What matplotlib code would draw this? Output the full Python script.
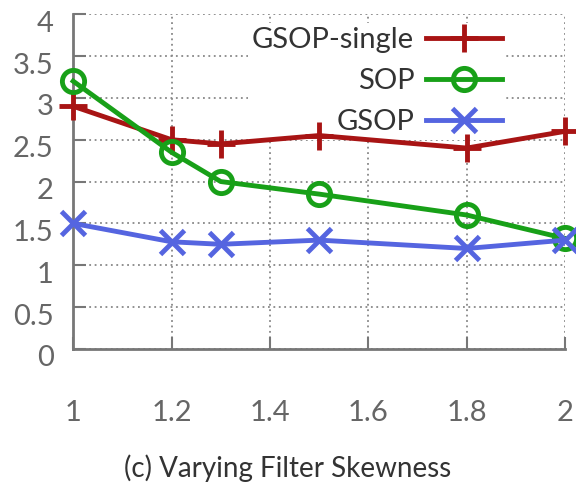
import matplotlib
matplotlib.use("Agg")
import matplotlib.pyplot as plt
import matplotlib.transforms as mtransforms

plt.rcParams['font.family'] = ['Lato', 'DejaVu Sans']

skewness = [1.0, 1.2, 1.3, 1.5, 1.8, 2.0]
gsop_single = [2.9, 2.5, 2.45, 2.55, 2.4, 2.6]
sop = [3.2, 2.35, 2.0, 1.85, 1.6, 1.32]
gsop = [1.5, 1.28, 1.25, 1.3, 1.2, 1.3]
x_ticks = [1, 1.2, 1.4, 1.6, 1.8, 2]
x_ticklabels = ["1", "1.2", "1.4", "1.6", "1.8", "2"]
y_ticks = [0, 0.5, 1, 1.5, 2, 2.5, 3, 3.5, 4]
y_ticklabels = ["0", "0.5", "1", "1.5", "2", "2.5", "3", "3.5", "4"]
caption = "(c) Varying Filter Skewness"

fig = plt.figure(figsize=(5.76, 4.9), dpi=100)
ax = fig.add_axes([0.127, 0.288, 0.854, 0.683])

red = "#a81414"
green = "#18a018"
blue = "#5565e0"

ax.plot(skewness, gsop_single, color=red, lw=3.5, marker='+', ms=20, mew=3.5,
        label="GSOP-single", zorder=3, clip_on=False)
ax.plot(skewness, sop, color=green, lw=3.5, marker='o', ms=16, mew=3.5,
        mfc='none', label="SOP", zorder=3, clip_on=False)
ax.plot(skewness, gsop, color=blue, lw=3.5, marker='x', ms=17, mew=3.5,
        label="GSOP", zorder=3, clip_on=False)

ax.set_xlim(1, 2)
ax.set_ylim(0, 4)
ax.set_xticks(x_ticks)
ax.set_xticklabels(x_ticklabels)
ax.set_yticks(y_ticks)
ax.set_yticklabels(y_ticklabels)

ax.set_axisbelow(True)
ax.grid(True, color="#888888", linestyle=(0, (1, 2)), lw=1.3)

for s in ['top', 'right']:
    ax.spines[s].set_visible(False)
for s in ['left', 'bottom']:
    ax.spines[s].set_color("#777777")
    ax.spines[s].set_linewidth(2)

ax.tick_params(axis='both', direction='in', length=9, width=1.5, color="#777777",
               labelsize=21, labelcolor="#666666")
ax.tick_params(axis='x', pad=37)
ax.tick_params(axis='y', pad=14)

offset = mtransforms.ScaledTranslation(0, -7 / 100, fig.dpi_scale_trans)
for lbl in ax.get_yticklabels():
    lbl.set_transform(lbl.get_transform() + offset)

leg = ax.legend(loc='upper right', bbox_to_anchor=(0.88, 0.975), markerfirst=False,
                frameon=True, fontsize=21, handlelength=2.6, handletextpad=0.4,
                labelspacing=0.52, borderpad=0.15, borderaxespad=0, fancybox=False)
leg.get_frame().set_facecolor('white')
leg.get_frame().set_edgecolor('none')
leg.get_frame().set_alpha(1)
leg.set_zorder(1)
for t in leg.get_texts():
    t.set_color("#333333")

fig.text(0.5, 0.045, caption, ha='center', va='center', fontsize=20, color="#333333")

fig.savefig("out.png", dpi=100)
